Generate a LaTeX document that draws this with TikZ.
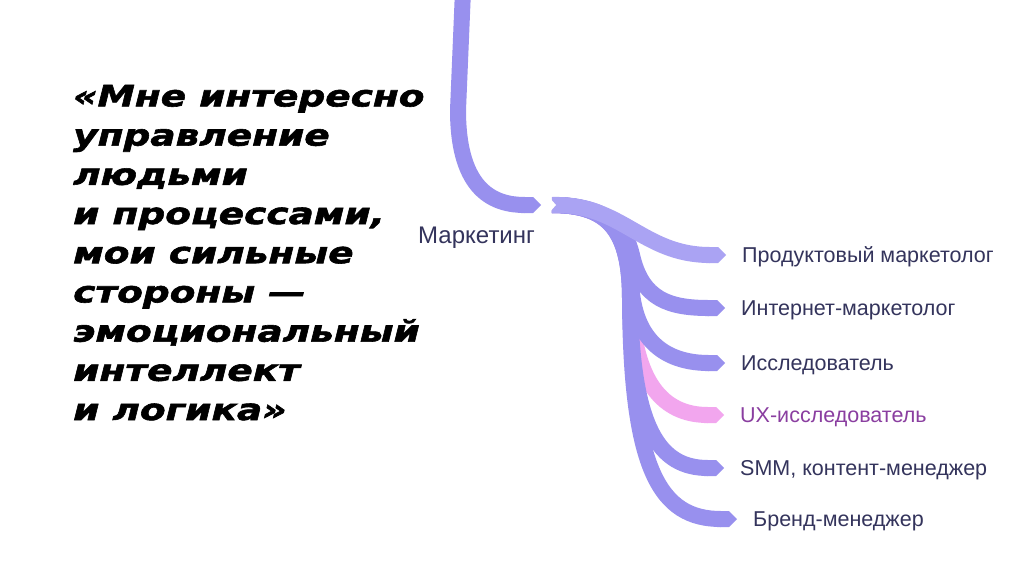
\documentclass[tikz,border=0pt]{standalone}
\usepackage{fontspec}
\setmainfont{Liberation Sans}
\newfontfamily\quotefont{DejaVu Sans}[FakeStretch=1.27, FakeBold=2]
\definecolor{ribblue}{RGB}{152,144,238}
\definecolor{ribpale}{RGB}{170,163,243}
\definecolor{ribpink}{RGB}{242,166,238}
\definecolor{labnavy}{RGB}{52,52,92}
\definecolor{labpurple}{RGB}{138,62,160}
\usetikzlibrary{arrows.meta,positioning}

\begin{document}
\begin{tikzpicture}[x=1pt, y=-1pt,
    ribbon/.style={line width=16pt, ribblue, -{Triangle Cap}},
    role/.style={anchor=west, inner sep=0pt, text height=15pt, text depth=0pt, font=\fontsize{21.5}{24}\selectfont, text=labnavy}]
  \fill[white] (0,0) rectangle (1024,574);
  \useasboundingbox (0,0) rectangle (1024,574);
  % Quote
  \node[anchor=base west, inner sep=0pt, align=left, font=\quotefont\bfseries\itshape\fontsize{29.5}{39.2}\selectfont] (quote) at (73,420) {%
    «Мне интересно\\управление\\людьми\\и процессами,\\мои сильные\\стороны —\\эмоциональный\\интеллект\\и логика»};
  % Field and roles
  \node[anchor=base west, inner sep=0pt, font=\fontsize{24}{26}\selectfont, text=labnavy] (field) at (418,243) {Маркетинг};
  \node[role] (prod) at (742,255) {Продуктовый маркетолог};
  \node[role] (inet) at (741,308) {Интернет-маркетолог};
  \node[role] (res) at (741,363) {Исследователь};
  \node[role, text=labpurple] (ux) at (740,415) {UX-исследователь};
  \node[role] (smm) at (740,468) {SMM, контент-менеджер};
  \node[role] (brand) at (753,519) {Бренд-менеджер};
  \coordinate (top) at (463,-10);
  \coordinate (mk) at (541,205);
  \coordinate (hub) at (552,205);
  % Stem into the field
  \draw[ribbon] (top) -- (458,110) .. controls (458,192) and (495,205) .. (mk);
  % Branches
  \draw[ribbon, ribpink] (hub) .. controls (610,205) and (630,232) .. (631,300) .. controls (634,392) and (670,415) .. ([xshift=-16pt]ux.west);
  \draw[ribbon] (hub) .. controls (610,205) and (630,232) .. (630,300) .. controls (631,470) and (660,519) .. ([xshift=-16pt]brand.west);
  \draw[ribbon] (hub) .. controls (610,205) and (630,232) .. (630,300) .. controls (632,430) and (660,468) .. ([xshift=-16pt]smm.west);
  \draw[ribbon] (hub) .. controls (610,205) and (630,232) .. (631,280) .. controls (633,345) and (670,363) .. ([xshift=-16pt]res.west);
  \draw[ribbon] (hub) .. controls (605,205) and (625,225) .. (632,255) .. controls (642,300) and (670,308) .. ([xshift=-16pt]inet.west);
  \draw[ribbon, ribpale] (hub) .. controls (622,203) and (642,255) .. ([xshift=-16pt]prod.west);
  % Notch
  \fill[white] ([shift={(-4,-9)}]hub) -- ([xshift=4pt]hub) -- ([shift={(-4,9)}]hub) -- cycle;
\end{tikzpicture}
\end{document}
